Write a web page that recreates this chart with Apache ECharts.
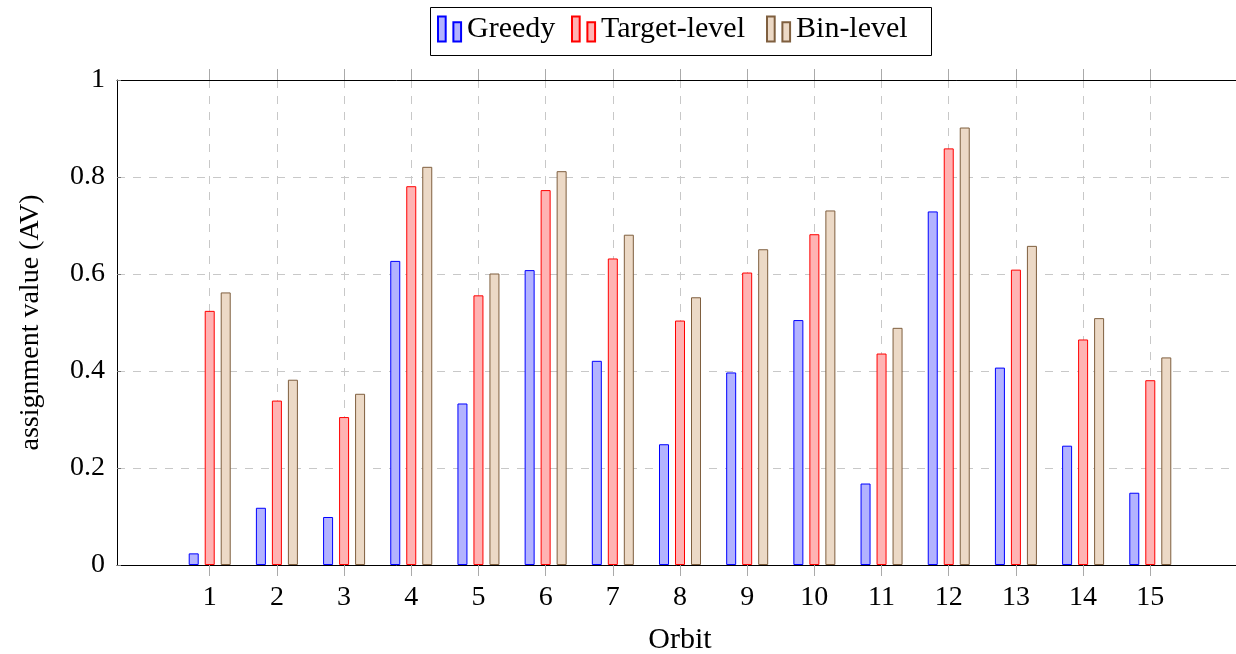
<!DOCTYPE html>
<html>
<head>
<meta charset="utf-8">
<script src="https://cdn.jsdelivr.net/npm/echarts@6/dist/echarts.min.js"></script>
<style>
html,body{margin:0;padding:0;background:#fff;}
#chart{width:1236px;height:654px;}
</style>
</head>
<body>
<div id="chart"></div>
<script>
const categories = [1,2,3,4,5,6,7,8,9,10,11,12,13,14,15];
const greedy = [0.024,0.118,0.099,0.627,0.333,0.608,0.421,0.249,0.397,0.505,0.168,0.729,0.407,0.246,0.149];
const targetLevel = [0.524,0.339,0.305,0.781,0.556,0.773,0.632,0.504,0.603,0.682,0.436,0.859,0.609,0.465,0.381];
const binLevel = [0.562,0.382,0.353,0.821,0.601,0.812,0.681,0.552,0.651,0.731,0.489,0.902,0.658,0.509,0.428];
const yTicks = [0,0.2,0.4,0.6,0.8,1];
const seriesNames = ['Greedy','Target-level','Bin-level'];

const FONT = 'Liberation Serif';
const pairs = arr => categories.map((c,i)=>[c, arr[i]]);
const icon = 'path://M0,0 h8 v26 h-8 z M16,6 h8 v20 h-8 z';
const legendLefts = [437, 571, 766];

function bar(name, data, fill, stroke){
  return {
    name, type:'bar', data: pairs(data),
    barWidth: 10, barGap: '60%',
    itemStyle:{color: fill, borderColor: stroke, borderWidth: 1},
    emphasis:{disabled:true}
  };
}

const chart = echarts.init(document.getElementById('chart'), null, {renderer:'canvas'});
chart.setOption({
  animation:false,
  textStyle:{fontFamily: FONT, color:'#000'},
  graphic:[{
    type:'rect', left:430, top:7, z:0,
    shape:{x:0, y:0, width:501, height:48},
    style:{fill:'#fff', stroke:'#000', lineWidth:1}
  }],
  legend: seriesNames.map((n,i) => ({
    left: legendLefts[i], top: 14,
    padding: 0,
    itemWidth: 25, itemHeight: 25,
    textStyle:{fontFamily: FONT, fontSize: 30, color:'#000'},
    data:[{name:n, icon}]
  })),
  grid:{left:117, top:80, right:-7, bottom:89, containLabel:false, outerBoundsMode:'none'},
  xAxis:[{
    type:'value', min:-0.38, max:16.38, position:'bottom',
    name:'Orbit', nameLocation:'middle', nameGap:60,
    nameTextStyle:{fontFamily:FONT, fontSize:30, color:'#000'},
    axisLine:{show:true, onZero:false, lineStyle:{color:'#000', width:1}},
    axisTick:{show:true, customValues: categories, length:11, inside:false, lineStyle:{color:'#aaa'}},
    axisLabel:{show:true, customValues: categories, fontFamily:FONT, fontSize:28, color:'#000', margin:19},
    splitLine:{show:true, lineStyle:{color:'#c8c8c8', type:[8,8], width:1}}
  },{
    type:'value', min:-0.38, max:16.38, position:'top',
    axisLine:{show:true, onZero:false, lineStyle:{color:'#000', width:1}},
    axisTick:{show:true, customValues: categories, length:11, inside:false, lineStyle:{color:'#aaa'}},
    axisLabel:{show:false},
    splitLine:{show:false}
  }],
  yAxis:{
    type:'value', min:0, max:1, interval:0.2,
    name:'assignment value (AV)', nameLocation:'middle', nameGap:72, nameRotate:90,
    nameTextStyle:{fontFamily:FONT, fontSize:28, color:'#000'},
    axisLine:{show:true, onZero:false, lineStyle:{color:'#000', width:1}},
    axisTick:{show:true, inside:true, length:4, lineStyle:{color:'#777'}},
    axisLabel:{fontFamily:FONT, fontSize:28, color:'#000', margin:12,
      formatter: v => { const t = yTicks.find(x=>Math.abs(x-v)<1e-9); return t===undefined ? '' : String(t); }},
    splitLine:{show:true, lineStyle:{color:'#c8c8c8', type:[8,8], width:1}}
  },
  series:[
    bar('Greedy', greedy, '#b3b3ff', '#0000ff'),
    bar('Target-level', targetLevel, '#ffb3b3', '#ff0000'),
    bar('Bin-level', binLevel, '#ecd9c6', '#7f5f3f')
  ]
});
</script>
</body>
</html>
